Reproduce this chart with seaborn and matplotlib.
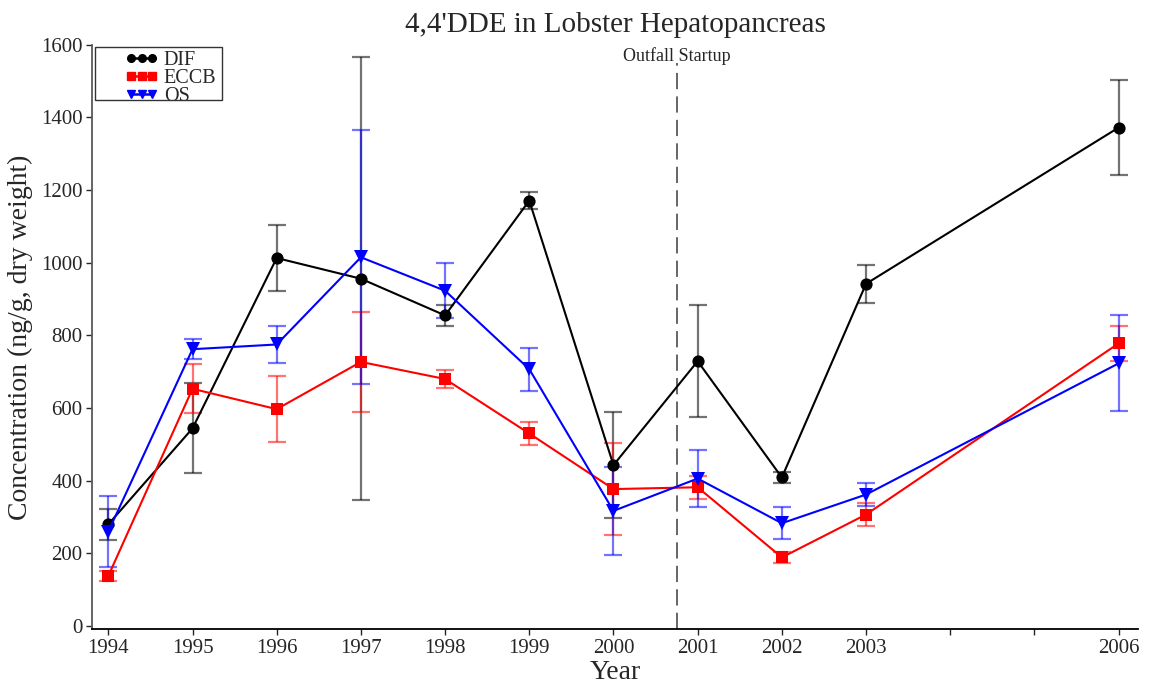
import numpy as np
import pandas as pd
import matplotlib
matplotlib.use("Agg")
import matplotlib.pyplot as plt
from matplotlib.lines import Line2D
from matplotlib.patches import Rectangle
import seaborn as sns

years = [1994, 1995, 1996, 1997, 1998, 1999, 2000, 2001, 2002, 2003, 2006]
dif = [280, 544, 1013, 956, 855, 1171, 443, 729, 409, 942, 1372]
dif_err = [42, 124, 90, 610, 30, 24, 146, 154, 14, 53, 131]
eccb = [138, 653, 597, 727, 680, 530, 377, 382, 189, 307, 778]
eccb_err = [14, 67, 91, 138, 25, 31, 126, 32, 15, 31, 49]
os_ = [260, 762, 775, 1015, 923, 707, 317, 406, 283, 362, 723]
os_err = [98, 27, 51, 350, 76, 59, 122, 78, 44, 31, 132]

sites = ["DIF", "ECCB", "OS"]
colors = {"DIF": "black", "ECCB": "red", "OS": "blue"}
markers = {"DIF": "o", "ECCB": "s", "OS": "v"}
msizes = {"DIF": 8.8, "ECCB": 8, "OS": 9.5}
tick_years = list(range(1994, 2007))
outfall_year = 2000.75

df = pd.DataFrame({
    "Year": years * 3,
    "Conc": dif + eccb + os_,
    "Err": dif_err + eccb_err + os_err,
    "Site": ["DIF"] * 11 + ["ECCB"] * 11 + ["OS"] * 11,
})

sns.set_theme(style="ticks")
plt.rcParams["font.family"] = ["Liberation Serif", "DejaVu Serif"]

fig = plt.figure(figsize=(11.51, 6.85), dpi=100)
ax = fig.add_axes([0.0802, 0.0818, 0.9085, 0.8529])

sns.lineplot(data=df, x="Year", y="Conc", hue="Site", style="Site",
             palette=colors, markers=markers, dashes=False, legend=False,
             linewidth=1.5, markeredgewidth=0, ax=ax, zorder=3)
for line in ax.lines[:3]:
    c = line.get_color()
    s = [k for k, v in colors.items() if matplotlib.colors.same_color(v, c)][0]
    line.set_markersize(msizes[s])

# error bars
for s in sites:
    d = df[df.Site == s]
    ax.errorbar(d.Year, d.Conc, yerr=d.Err, fmt="none", ecolor=colors[s],
                alpha=0.55, elinewidth=1.6, capsize=6.3, capthick=1.6, zorder=2)

ax.axvline(outfall_year, ymax=0.968, color="0.35", lw=1.3, ls=(0, (9, 4)), zorder=1)
ax.text(outfall_year, 1570, "Outfall Startup", ha="center", va="center", fontsize=13)

ax.set_xlim(1993.81, 2006.23)
ax.set_ylim(-8, 1600)
ax.set_xticks(tick_years)
ax.set_xticklabels([str(y) if y in years else "" for y in tick_years])
ax.set_yticks(range(0, 1601, 200))
ax.tick_params(axis="both", labelsize=15, direction="out", length=4, width=1, pad=3)
ax.set_title("4,4'DDE in Lobster Hepatopancreas", fontsize=21, pad=9)
ax.set_xlabel("Year", fontsize=20, labelpad=2)
ax.set_ylabel("Concentration (ng/g, dry weight)", fontsize=20, labelpad=6)
sns.despine(ax=ax)
for sp in ["left", "bottom"]:
    ax.spines[sp].set_linewidth(1.3)
ax.spines["left"].set_color("0.35")
ax.spines["bottom"].set_color("black")

handles = [Line2D([], [], color=colors[s], marker=markers[s], ms=5.5,
                  lw=1.8) for s in sites]
leg = ax.legend(handles, sites, loc="upper left", numpoints=3, fontsize=14.5,
                handlelength=1.6, handletextpad=0.3, labelspacing=-0.04,
                borderpad=0.0, frameon=False,
                bbox_to_anchor=(23 / 1045, 1.0 + 4 / 581))
# legend frame drawn as a plain box like the original
fig.patches.append(Rectangle((95 / 1151, 1 - 100 / 685), 127 / 1151, 53 / 685,
                             transform=fig.transFigure, fill=False,
                             ec="0.2", lw=1.0, zorder=5))

fig.savefig("out.png", dpi=100)
